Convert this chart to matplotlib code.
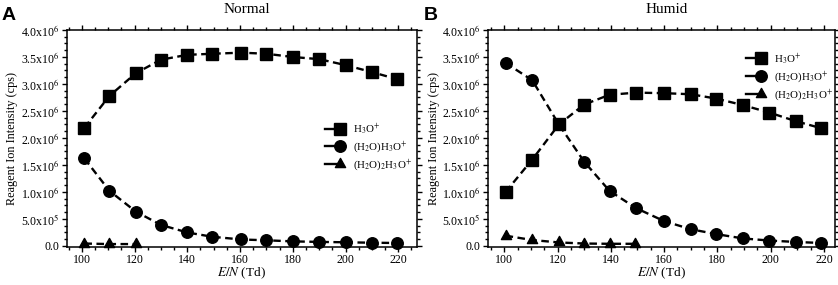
import numpy as np
import matplotlib
matplotlib.use("Agg")
import matplotlib.pyplot as plt
from matplotlib.lines import Line2D
from matplotlib.ticker import MultipleLocator, AutoMinorLocator, FuncFormatter
from matplotlib.legend_handler import HandlerLine2DCompound
from matplotlib.path import Path

plt.rcParams['font.family'] = ['Liberation Serif', 'DejaVu Serif']
plt.rcParams['mathtext.fontset'] = 'stix'

# ---------------- data ----------------
en_normal = [101, 110.5, 120.5, 130, 140, 149.5, 160.5, 170, 180, 190, 200, 210, 219.5]
h3o_normal = [2.19e6, 2.78e6, 3.20e6, 3.45e6, 3.54e6, 3.56e6, 3.58e6, 3.56e6, 3.50e6, 3.46e6, 3.35e6, 3.22e6, 3.09e6]
h2oh3o_normal = [1.62e6, 1.02e6, 0.636e6, 0.39e6, 0.25e6, 0.17e6, 0.12e6, 0.105e6, 0.085e6, 0.075e6, 0.068e6, 0.06e6, 0.055e6]
en_normal_tri = [101, 110.5, 120.5]
h2o2h3o_normal = [0.045e6, 0.035e6, 0.035e6]

en_humid = [100.5, 110.5, 120.5, 130, 139.5, 149.5, 160, 170, 179.5, 189.5, 199.5, 209.5, 219]
h3o_humid = [1.00e6, 1.60e6, 2.25e6, 2.62e6, 2.80e6, 2.84e6, 2.83e6, 2.81e6, 2.73e6, 2.61e6, 2.47e6, 2.31e6, 2.18e6]
h2oh3o_humid = [3.39e6, 3.07e6, 2.25e6, 1.56e6, 1.02e6, 0.70e6, 0.46e6, 0.31e6, 0.22e6, 0.14e6, 0.10e6, 0.074e6, 0.055e6]
en_humid_tri = [100.5, 110.5, 120.5, 130, 139.5, 149]
h2o2h3o_humid = [0.19e6, 0.11e6, 0.065e6, 0.045e6, 0.04e6, 0.04e6]

labels = ['H$_3$O$^{+}$', '(H$_2$O)H$_3$O$^{+}$', '(H$_2$O)$_2$H$_3$O$^{+}$']
titles = ['Normal', 'Humid']
panel_letters = ['A', 'B']
xlabel = '$\\mathit{E/N}$ (Td)'
ylabel = 'Reagent Ion Intensity (cps)'

# triangle marker centred on its centroid
tri_marker = Path([(-1, -0.6), (1, -0.6), (0, 1.2), (-1, -0.6)],
                  [Path.MOVETO, Path.LINETO, Path.LINETO, Path.CLOSEPOLY])


class RightMarkerHandler(HandlerLine2DCompound):
    def get_xdata(self, legend, xdescent, ydescent, width, height, fontsize):
        xdata = np.array([-xdescent, -xdescent + width * 0.72])
        xdata_marker = np.array([-xdescent + width * 0.72])
        return xdata, xdata_marker


def yfmt(v, pos):
    if abs(v) < 1:
        return '0.0'
    e = int(np.floor(np.log10(abs(v)) + 1e-9))
    m = v / 10 ** e
    return f'{m:.1f}x10$^{{{e}}}$'


W, H = 838, 285
fig = plt.figure(figsize=(W / 100, H / 100), dpi=100)

ax_boxes = [(67, 30, 416.5, 246.5), (488, 30, 834.7, 246.5)]
xlims = [(94.4, 226.9), (93.9, 224.0)]

style = dict(color='black', lw=1.7, dashes=(3.2, 1.9), clip_on=False)

datasets = [
    (en_normal, h3o_normal, h2oh3o_normal, en_normal_tri, h2o2h3o_normal),
    (en_humid, h3o_humid, h2oh3o_humid, en_humid_tri, h2o2h3o_humid),
]
legend_pos = [(325, 121.5), (746, 51)]
ylabel_x = [18.5, 439.5]

for i, (l, t, r, b) in enumerate(ax_boxes):
    ax = fig.add_axes([l / W, 1 - b / H, (r - l) / W, (b - t) / H])
    xs, a, c, xt, d = datasets[i]
    ax.plot(xs, a, marker='s', ms=8, **style)
    ax.plot(xs, c, marker='o', ms=8.3, **style)
    ax.plot(xt, d, marker=tri_marker, ms=8.8, **style)
    ax.set_xlim(*xlims[i])
    ax.set_ylim(-0.01e6, 4.0e6)
    ax.xaxis.set_major_locator(MultipleLocator(20))
    ax.xaxis.set_minor_locator(MultipleLocator(5))
    ax.yaxis.set_major_locator(MultipleLocator(0.5e6))
    ax.yaxis.set_minor_locator(AutoMinorLocator(4))
    ax.yaxis.set_major_formatter(FuncFormatter(yfmt))
    ax.tick_params(which='both', direction='out', top=True, right=True,
                   labelsize=8.6, width=1.0, pad=2)
    ax.tick_params(which='major', length=3.5)
    ax.tick_params(which='minor', length=2)
    for s in ax.spines.values():
        s.set_linewidth(1.1)
    ax.set_xlabel(xlabel, fontsize=9.5)
    ax.xaxis.set_label_coords(0.5, -(265.5 - b) / (b - t))
    ax.set_ylabel(ylabel, fontsize=8.8)
    ax.yaxis.set_label_coords(-(l - ylabel_x[i]) / (r - l), 0.5)

    proxies = [Line2D([], [], color='black', lw=1.7, ls='-', marker='s', ms=8),
               Line2D([], [], color='black', lw=1.7, ls='-', marker='o', ms=8.3),
               Line2D([], [], color='black', lw=1.7, ls='-', marker=tri_marker, ms=8.8)]
    hmap = {p: RightMarkerHandler(numpoints=1) for p in proxies}
    lx, ly = legend_pos[i]
    ax.legend(proxies, labels, loc='upper left',
              bbox_to_anchor=(lx / W, 1 - ly / H), bbox_transform=fig.transFigure,
              frameon=False, fontsize=7.8, borderpad=0, borderaxespad=0,
              handlelength=1.92, handletextpad=0.65, labelspacing=0.22,
              handler_map=hmap)

    fig.text(((l + r) / 2 + 5) / W, 1 - 9.5 / H, titles[i], ha='center', va='center', fontsize=11)
    fig.text((2 if i == 0 else 424) / W, 1 - 15 / H, panel_letters[i], ha='left', va='center',
             fontsize=14, fontweight='bold', family=['Liberation Sans', 'DejaVu Sans'])

fig.savefig('out.png', dpi=100)
